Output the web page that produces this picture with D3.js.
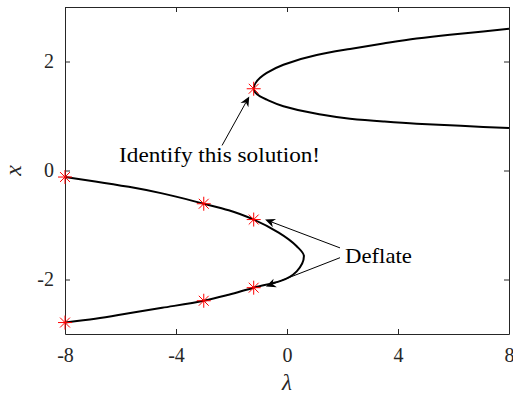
<!DOCTYPE html>
<html>
<head>
<meta charset="utf-8">
<script src="https://cdn.jsdelivr.net/npm/d3@7"></script>
<style>
  html, body { margin: 0; padding: 0; background: #fff; }
  svg { display: block; }
</style>
</head>
<body>
<svg id="chart" width="513" height="396"></svg>
<script>
// Bifurcation diagram: solution branches x(λ)
// Upper (isolated) branch, traced from its top end through the fold and back
const upperLambda = [8.00, 7.07, 5.87, 4.67, 3.47, 2.27, 1.07, -0.13, -0.73, -0.97, -1.20, -0.97, -0.73, -0.13, 1.07, 2.27, 3.47, 4.67, 5.87, 7.07, 8.00];
const upperX      = [2.60, 2.55, 2.49, 2.42, 2.33, 2.23, 2.12, 1.94, 1.79, 1.70, 1.50, 1.36, 1.30, 1.18, 1.04, 0.95, 0.90, 0.86, 0.83, 0.80, 0.78];

// Lower branch, traced from λ = -8 around its fold and back to λ = -8
const lowerLambda = [-8.00, -6.91, -5.70, -4.50, -3.00, -2.10, -1.20, -0.30, 0.35, 0.61, 0.35, -0.25, -1.20, -2.10, -3.00, -4.50, -5.70, -6.91, -8.00];
const lowerX      = [-0.12, -0.20, -0.30, -0.42, -0.61, -0.73, -0.90, -1.14, -1.39, -1.57, -1.85, -2.03, -2.15, -2.28, -2.39, -2.52, -2.62, -2.72, -2.79];

// Computed solutions (asterisks)
const solLambda = [-8, -3, -1.2, -1.2, -3, -8, -1.2];
const solX      = [-0.12, -0.61, -0.90, -2.15, -2.39, -2.79, 1.50];

// Axis ticks
const xTicks = [-8, -4, 0, 4, 8];
const yTicks = [-2, 0, 2];

const W = 513, H = 396;
const margin = { left: 65, right: 4, top: 7, bottom: 62 };
const svg = d3.select("#chart");
const serif = '"Liberation Serif"';

const x = d3.scaleLinear().domain([-8, 8]).range([margin.left, W - margin.right]);
const y = d3.scaleLinear().domain([-3, 3]).range([H - margin.bottom, margin.top]);

const axisColor = "#262626";
const tickLen = 5;

// Axes on all four sides, ticks pointing inward
const gx = svg.append("g").attr("transform", `translate(0,${y(-3)})`)
  .call(d3.axisBottom(x).tickValues(xTicks).tickSizeInner(-tickLen).tickSizeOuter(0)
        .tickPadding(14).tickFormat(d => d));
const gxTop = svg.append("g").attr("transform", `translate(0,${y(3)})`)
  .call(d3.axisTop(x).tickValues(xTicks).tickSizeInner(-tickLen).tickSizeOuter(0).tickFormat(""));
const gy = svg.append("g").attr("transform", `translate(${x(-8)},0)`)
  .call(d3.axisLeft(y).tickValues(yTicks).tickSizeInner(-tickLen).tickSizeOuter(0)
        .tickPadding(11).tickFormat(d => d));
const gyRight = svg.append("g").attr("transform", `translate(${x(8)},0)`)
  .call(d3.axisRight(y).tickValues(yTicks).tickSizeInner(-tickLen).tickSizeOuter(0).tickFormat(""));

[gx, gxTop, gy, gyRight].forEach(g => {
  g.attr("font-family", serif).attr("font-size", 20);
  g.select(".domain").attr("stroke", axisColor).attr("stroke-width", 1);
  g.selectAll(".tick line").attr("stroke", axisColor).attr("stroke-width", 1);
  g.selectAll(".tick text").attr("fill", axisColor);
});

// Axis labels
svg.append("text")
  .attr("x", x(0)).attr("y", 390)
  .attr("text-anchor", "middle").attr("font-family", serif)
  .attr("font-style", "italic").attr("font-size", 23).attr("fill", axisColor)
  .text("λ");
svg.append("text")
  .attr("transform", `translate(21,${(y(-3) + y(3)) / 2}) rotate(-90)`)
  .attr("text-anchor", "middle").attr("font-family", serif)
  .attr("font-style", "italic").attr("font-size", 24).attr("fill", axisColor)
  .text("x");

// Branches: x is monotone along each branch, so interpolate λ as a function of x
const line = d3.line().x(d => x(d[0])).y(d => y(d[1])).curve(d3.curveMonotoneY);
const branches = [
  d3.zip(upperLambda, upperX),
  d3.zip(lowerLambda, lowerX)
];
svg.append("g").selectAll("path").data(branches).join("path")
  .attr("d", line)
  .attr("fill", "none").attr("stroke", "#000").attr("stroke-width", 2)
  .attr("stroke-linejoin", "round");

// Annotation arrows (data coordinates)
const arrows = [
  { from: [-2.34, 0.46], to: [-1.36, 1.36] },
  { from: [1.91, -1.42], to: [-0.79, -0.90] },
  { from: [1.91, -1.60], to: [-0.76, -2.13] }
];
const ag = svg.append("g");
arrows.forEach(a => {
  const x0 = x(a.from[0]), y0 = y(a.from[1]);
  const x1 = x(a.to[0]), y1 = y(a.to[1]);
  const ang = Math.atan2(y1 - y0, x1 - x0);
  const L = 10, Wd = 4.5, notch = 3;
  const ux = Math.cos(ang), uy = Math.sin(ang);
  const px = -uy, py = ux;
  ag.append("line")
    .attr("x1", x0).attr("y1", y0)
    .attr("x2", x1 - ux * (L - notch)).attr("y2", y1 - uy * (L - notch))
    .attr("stroke", "#000").attr("stroke-width", 1);
  const bx = x1 - ux * L, by = y1 - uy * L;
  const nx = x1 - ux * (L - notch), ny = y1 - uy * (L - notch);
  ag.append("path")
    .attr("d", `M${x1},${y1} L${bx + px * Wd},${by + py * Wd} L${nx},${ny} L${bx - px * Wd},${by - py * Wd} Z`)
    .attr("fill", "#000");
});

// Annotation texts
svg.append("text")
  .attr("x", x(-2.43)).attr("y", y(0.15))
  .attr("text-anchor", "middle").attr("font-family", serif)
  .attr("textLength", 201).attr("lengthAdjust", "spacingAndGlyphs")
  .attr("font-size", 21).attr("fill", "#000")
  .text("Identify this solution!");
svg.append("text")
  .attr("x", x(2.09)).attr("y", y(-1.69)).attr("font-family", serif)
  .attr("textLength", 67).attr("lengthAdjust", "spacingAndGlyphs")
  .attr("font-size", 21).attr("fill", "#000")
  .text("Deflate");

// Asterisk markers
const r = 7, rd = 7 * Math.SQRT1_2;
const stars = svg.append("g").selectAll("g").data(d3.zip(solLambda, solX)).join("g")
  .attr("transform", d => `translate(${x(d[0])},${y(d[1])})`);
stars.append("path")
  .attr("d", `M${-r},0H${r}M0,${-r}V${r}M${-rd},${-rd}L${rd},${rd}M${-rd},${rd}L${rd},${-rd}`)
  .attr("stroke", "#ff0000").attr("stroke-width", 1).attr("fill", "none");
</script>
</body>
</html>
